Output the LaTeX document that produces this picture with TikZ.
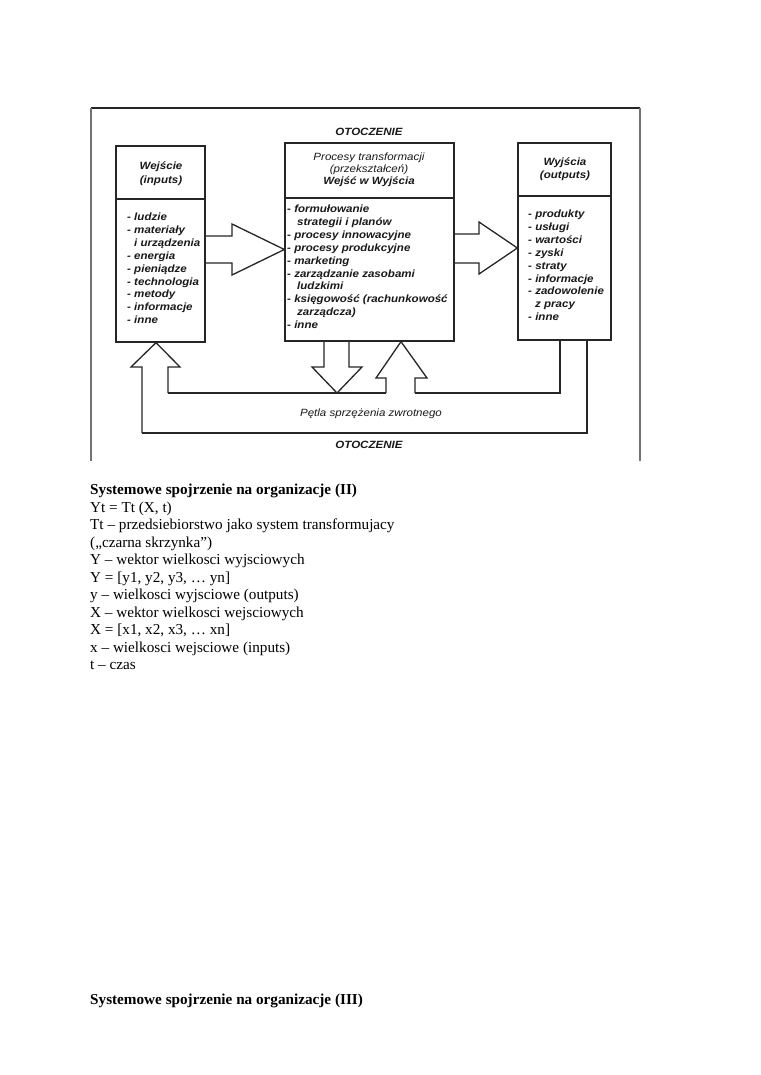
\documentclass[tikz,border=0pt]{standalone}
\usepackage{fontspec}
\setmainfont{Liberation Serif}
\newfontfamily\diagfont[FakeStretch=1.1]{Liberation Sans}
\begin{document}
\begin{tikzpicture}[x=1pt,y=-1pt,
  box/.style={draw=black!85, line width=1.3pt, inner sep=0pt},
  blk/.style={draw=black!85, line width=1.3pt, line join=miter},
  frameline/.style={draw=black!55, line width=1.2pt},
  dtxt/.style={font=\diagfont\bfseries\itshape\fontsize{10.5}{12.9}\selectfont, inner sep=0pt, anchor=base west, text=black!90},
  dlight/.style={font=\diagfont\itshape\fontsize{10.5}{12.9}\selectfont, inner sep=0pt, anchor=base, text=black!90},
  dhead/.style={dtxt, anchor=base},
  stxt/.style={font=\fontsize{15.2}{17.5}\selectfont, inner sep=0pt, anchor=base west},
  sbold/.style={stxt, font=\bfseries\fontsize{15.2}{17.5}\selectfont}]
\useasboundingbox[fill=white] (0,0) rectangle (760,1075);

% frame
\draw[draw=black!85, line width=2pt] (91,108) -- (640,108);
\draw[frameline] (91,108) -- (91,461);
\draw[frameline] (640,108) -- (640,461);

% boxes
\node[box, minimum width=89pt, minimum height=196pt] (inbox) at (160.5,244) {};
\node[box, minimum width=169pt, minimum height=198pt] (tbox) at (369.5,242) {};
\node[box, minimum width=93pt, minimum height=197pt] (outbox) at (564.5,241.5) {};
\draw[box] (inbox.west |- 0,199) -- (inbox.east |- 0,199);
\draw[box] (tbox.west |- 0,198) -- (tbox.east |- 0,198);
\draw[box] (outbox.west |- 0,196) -- (outbox.east |- 0,196);

% headers
\node[dtxt] (oto1) at (369,135.5) [anchor=base] {OTOCZENIE};
\node[dhead] (h1a) at (161,169.5) {Wejście};
\node[dhead] (h1b) at (161,183.5) {(inputs)};
\node[dlight] (h2a) at (369,160.5) {Procesy transformacji};
\node[dlight] (h2b) at (369,172.5) {(przekształceń)};
\node[dhead] (h2c) at (369,184.5) {Wejść w Wyjścia};
\node[dhead] (h3a) at (565,165.5) {Wyjścia};
\node[dhead] (h3b) at (565,178.5) {(outputs)};

% lists
\foreach \t [count=\i from 0] in {{- ludzie},{- materiały},{\hspace*{7pt}i urządzenia},{- energia},{- pieniądze},{- technologia},{- metody},{- informacje},{- inne}}
  \node[dtxt] (la\i) at (127,220.5+12.9*\i) {\t};
\foreach \t [count=\i from 0] in {{- formułowanie},{\hspace*{10pt}strategii i planów},{- procesy innowacyjne},{- procesy produkcyjne},{- marketing},{- zarządzanie zasobami},{\hspace*{10pt}ludzkimi},{- księgowość (rachunkowość},{\hspace*{10pt}zarządcza)},{- inne}}
  \node[dtxt] (lb\i) at (287,212.5+12.9*\i) {\t};
\foreach \t [count=\i from 0] in {{- produkty},{- usługi},{- wartości},{- zyski},{- straty},{- informacje},{- zadowolenie},{\hspace*{7pt}z pracy},{- inne}}
  \node[dtxt] (lc\i) at (528,217.5+12.9*\i) {\t};

% block arrow inputs -> transformation
\draw[blk] (inbox.east |- 0,236) -- (232,236) -- (232,224) -- (tbox.west |- 0,249.5)
  -- (232,275) -- (232,263) -- (inbox.east |- 0,263);
% block arrow transformation -> outputs
\draw[blk] (tbox.east |- 0,234) -- (479,234) -- (479,222) -- (outbox.west |- 0,248)
  -- (479,274) -- (479,263) -- (tbox.east |- 0,263);
% down arrow from transformation
\coordinate (dtip) at (337,393);
\draw[blk] (324,0 |- tbox.south) -- (324,367) -- (312,367) -- (dtip) -- (362,367) -- (349,367) -- (349,0 |- tbox.south);
% up arrow into transformation
\draw[blk] (386,393) -- (386,378) -- (376,378) -- (401,0 |- tbox.south) -- (427,378) -- (415,378) -- (415,393);
% up arrow into inputs
\draw[blk] (142,433) -- (142,367) -- (131,367) -- (156,0 |- inbox.south) -- (180,367) -- (168,367) -- (168,393);
% inner loop
\draw[blk] (168,393) -- (dtip) -- (386,393);
\draw[blk] (415,393) -- (560,393) -- (560,0 |- outbox.south);
% outer loop
\draw[blk] (142,433) -- (587,433) -- (587,0 |- outbox.south);

\node[dlight] (petla) at (371,416.5) {Pętla sprzężenia zwrotnego};
\node[dtxt] (oto2) at (369,448.5) [anchor=base] {OTOCZENIE};

% text below
\node[sbold] (t0) at (90,494.5) {Systemowe spojrzenie na organizacje (II)};
\foreach \t [count=\i from 1] in {{Yt = Tt (X, t)},{Tt – przedsiebiorstwo jako system transformujacy},{(„czarna skrzynka”)},{Y – wektor wielkosci wyjsciowych},{Y = [y1, y2, y3, … yn]},{y – wielkosci wyjsciowe (outputs)},{X – wektor wielkosci wejsciowych},{X = [x1, x2, x3, … xn]},{x – wielkosci wejsciowe (inputs)},{t – czas}}
  \node[stxt] (t\i) at (90,494.5+17.5*\i) {\t};
\node[sbold] (t12) at (90,1004.5) {Systemowe spojrzenie na organizacje (III)};
\end{tikzpicture}
\end{document}
